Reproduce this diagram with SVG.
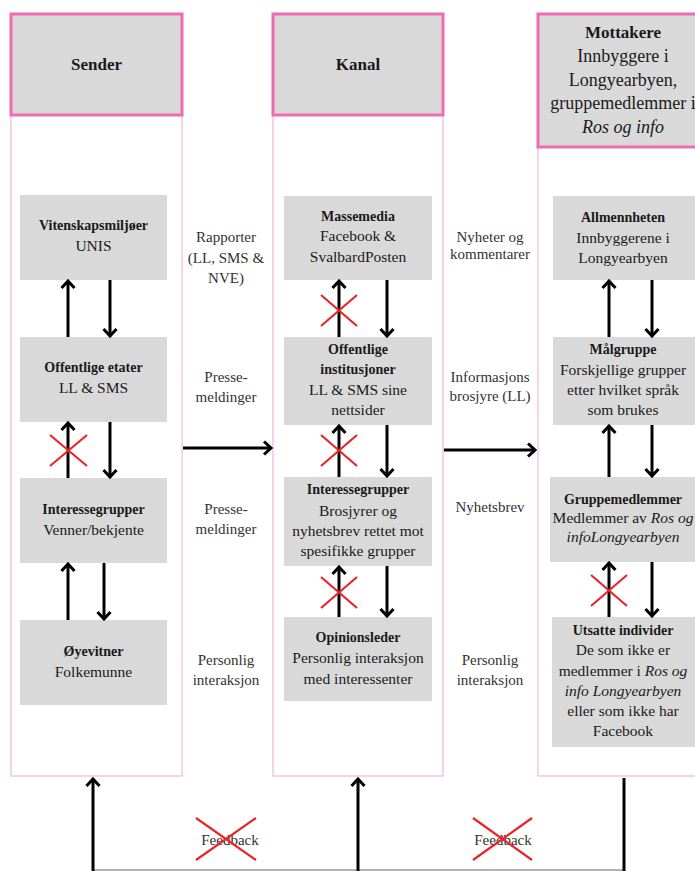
<svg xmlns="http://www.w3.org/2000/svg" width="695" height="871" viewBox="0 0 695 871" font-family="'Liberation Serif','Times New Roman',serif">
<defs>
<marker id="ah" markerUnits="userSpaceOnUse" markerWidth="16" markerHeight="16" viewBox="0 0 16 16" refX="14" refY="8" orient="auto">
<path d="M7,1.5 L14,8 L7,14.5" fill="none" stroke="#000" stroke-width="3"/>
</marker>
<style>
.col{fill:#fff;stroke:#f2c6df;stroke-width:1.5}
.hdr{fill:#d9d9d9;stroke:#f06ab4;stroke-width:3}
.box{fill:#d9d9d9}
text{font-family:"Liberation Serif","Times New Roman",serif;fill:#1a1a1a;text-anchor:middle}
.b{font-weight:bold;font-size:14px}
.r{font-size:15.5px}
.h{font-weight:bold;font-size:17px}
.hr{font-size:18px}
.lab{font-size:15px;fill:#333}
.arr{stroke:#000;stroke-width:3;fill:none;marker-end:url(#ah)}
.ln{stroke:#000;stroke-width:3;fill:none}
.x{stroke:#e8262a;stroke-width:2.2}
</style>
</defs>
<rect x="0" y="0" width="695" height="871" fill="#fff"/>

<g id="col-sender">
<rect class="col" x="11" y="14" width="171" height="762"/>
<rect class="hdr" x="11" y="14" width="171" height="101"/>
<text class="h" x="96.5" y="70">Sender</text>
</g>
<g id="col-kanal">
<rect class="col" x="273" y="14" width="170" height="762"/>
<rect class="hdr" x="273" y="14" width="170" height="101"/>
<text class="h" x="358" y="70">Kanal</text>
</g>
<g id="col-mottakere">
<rect class="col" x="538" y="14" width="175" height="762"/>
<rect class="hdr" x="538" y="14" width="175" height="133"/>
<text class="h" x="623" y="38">Mottakere</text>
<text class="hr" x="623" y="62">Innbyggere i</text>
<text class="hr" x="623" y="86">Longyearbyen,</text>
<text class="hr" x="623" y="109">gruppemedlemmer i</text>
<text class="hr" x="623" y="133" font-style="italic">Ros og info</text>
</g>

<g id="n-vitenskap">
<rect class="box" x="20" y="195" width="147" height="85"/>
<text class="b" x="93.5" y="230">Vitenskapsmiljøer</text>
<text class="r" x="93.5" y="251">UNIS</text>
</g>
<g id="n-offentlige-etater">
<rect class="box" x="20" y="337" width="147" height="85"/>
<text class="b" x="93.5" y="372">Offentlige etater</text>
<text class="r" x="93.5" y="393">LL &amp; SMS</text>
</g>
<g id="n-interessegrupper-s">
<rect class="box" x="20" y="478" width="147" height="85"/>
<text class="b" x="93.5" y="514">Interessegrupper</text>
<text class="r" x="93.5" y="535">Venner/bekjente</text>
</g>
<g id="n-oyevitner">
<rect class="box" x="20" y="620" width="147" height="85"/>
<text class="b" x="93.5" y="656">Øyevitner</text>
<text class="r" x="93.5" y="677">Folkemunne</text>
</g>

<g id="n-massemedia">
<rect class="box" x="284" y="196" width="148" height="84"/>
<text class="b" x="358" y="221">Massemedia</text>
<text class="r" x="358" y="241">Facebook &amp;</text>
<text class="r" x="358" y="262">SvalbardPosten</text>
</g>
<g id="n-offentlige-inst">
<rect class="box" x="284" y="337" width="148" height="88"/>
<text class="b" x="358" y="354">Offentlige</text>
<text class="b" x="358" y="374">institusjoner</text>
<text class="r" x="358" y="395">LL &amp; SMS sine</text>
<text class="r" x="358" y="415">nettsider</text>
</g>
<g id="n-interessegrupper-k">
<rect class="box" x="284" y="477" width="148" height="89"/>
<text class="b" x="358" y="494">Interessegrupper</text>
<text class="r" x="358" y="516">Brosjyrer og</text>
<text class="r" x="358" y="536">nyhetsbrev rettet mot</text>
<text class="r" x="358" y="556">spesifikke grupper</text>
</g>
<g id="n-opinionsleder">
<rect class="box" x="284" y="617" width="148" height="84"/>
<text class="b" x="358" y="642">Opinionsleder</text>
<text class="r" x="358" y="663">Personlig interaksjon</text>
<text class="r" x="358" y="684">med interessenter</text>
</g>

<g id="n-allmennheten">
<rect class="box" x="553" y="196" width="150" height="84"/>
<text class="b" x="623" y="222">Allmennheten</text>
<text class="r" x="623" y="243">Innbyggerene i</text>
<text class="r" x="623" y="263">Longyearbyen</text>
</g>
<g id="n-malgruppe">
<rect class="box" x="553" y="337" width="150" height="88"/>
<text class="b" x="623" y="354">Målgruppe</text>
<text class="r" x="623" y="375">Forskjellige grupper</text>
<text class="r" x="623" y="395">etter hvilket språk</text>
<text class="r" x="623" y="415">som brukes</text>
</g>
<g id="n-gruppemedlemmer">
<rect class="box" x="550" y="477" width="153" height="85"/>
<text class="b" x="623" y="504">Gruppemedlemmer</text>
<text class="r" x="623" y="523">Medlemmer av <tspan font-style="italic">Ros og</tspan></text>
<text class="r" x="623" y="542" font-style="italic">infoLongyearbyen</text>
</g>
<g id="n-utsatte">
<rect class="box" x="552" y="617" width="151" height="130"/>
<text class="b" x="623" y="635">Utsatte individer</text>
<text class="r" x="623" y="655">De som ikke er</text>
<text class="r" x="623" y="676">medlemmer i <tspan font-style="italic">Ros og</tspan></text>
<text class="r" x="623" y="696" font-style="italic">info Longyearbyen</text>
<text class="r" x="623" y="716">eller som ikke har</text>
<text class="r" x="623" y="736">Facebook</text>
</g>

<g id="labels">
<text class="lab" x="226" y="242">Rapporter</text>
<text class="lab" x="226" y="263">(LL, SMS &amp;</text>
<text class="lab" x="226" y="283">NVE)</text>
<text class="lab" x="226" y="382">Presse-</text>
<text class="lab" x="226" y="402">meldinger</text>
<text class="lab" x="226" y="514">Presse-</text>
<text class="lab" x="226" y="534">meldinger</text>
<text class="lab" x="226" y="665">Personlig</text>
<text class="lab" x="226" y="685">interaksjon</text>
<text class="lab" x="490" y="242">Nyheter og</text>
<text class="lab" x="490" y="259">kommentarer</text>
<text class="lab" x="490" y="382">Informasjons</text>
<text class="lab" x="490" y="401">brosjyre (LL)</text>
<text class="lab" x="490" y="512">Nyhetsbrev</text>
<text class="lab" x="490" y="665">Personlig</text>
<text class="lab" x="490" y="685">interaksjon</text>
<text class="lab" x="230" y="845">Feedback</text>
<text class="lab" x="503" y="845">Feedback</text>
</g>

<g id="connectors">
<line class="arr" x1="68" y1="337" x2="68" y2="281"/>
<line class="arr" x1="110" y1="280" x2="110" y2="336"/>
<line class="arr" x1="68" y1="478" x2="68" y2="423"/>
<line class="arr" x1="110" y1="422" x2="110" y2="477"/>
<line class="arr" x1="68" y1="620" x2="68" y2="564"/>
<line class="arr" x1="104" y1="563" x2="104" y2="619"/>

<line class="arr" x1="339" y1="337" x2="339" y2="281"/>
<line class="arr" x1="387" y1="280" x2="387" y2="336"/>
<line class="arr" x1="339" y1="477" x2="339" y2="426"/>
<line class="arr" x1="387" y1="425" x2="387" y2="476"/>
<line class="arr" x1="339" y1="617" x2="339" y2="567"/>
<line class="arr" x1="387" y1="566" x2="387" y2="616"/>

<line class="arr" x1="609" y1="337" x2="609" y2="281"/>
<line class="arr" x1="652" y1="280" x2="652" y2="336"/>
<line class="arr" x1="609" y1="477" x2="609" y2="426"/>
<line class="arr" x1="652" y1="425" x2="652" y2="476"/>
<line class="arr" x1="609" y1="617" x2="609" y2="563"/>
<line class="arr" x1="652" y1="562" x2="652" y2="616"/>

<line class="arr" x1="183" y1="448" x2="271" y2="448"/>
<line class="arr" x1="444" y1="450" x2="535" y2="450"/>

<line x1="93" y1="870" x2="624" y2="870" stroke="#9a9a9a" stroke-width="1.5"/>
<line class="arr" x1="93" y1="871" x2="93" y2="779"/>
<line class="arr" x1="358" y1="871" x2="358" y2="779"/>
<line class="ln" x1="624" y1="778" x2="624" y2="871"/>
</g>

<g id="crosses">
<path class="x" d="M50,435 L87,466 M87,435 L50,466"/>
<path class="x" d="M321,295 L357,326 M357,295 L321,326"/>
<path class="x" d="M321,435 L357,466 M357,435 L321,466"/>
<path class="x" d="M321,577 L357,608 M357,577 L321,608"/>
<path class="x" d="M591,575 L627,606 M627,575 L591,606"/>
<path class="x" d="M196,818 L256,860 M256,818 L196,860"/>
<path class="x" d="M473,818 L532,860 M532,818 L473,860"/>
</g>
</svg>
